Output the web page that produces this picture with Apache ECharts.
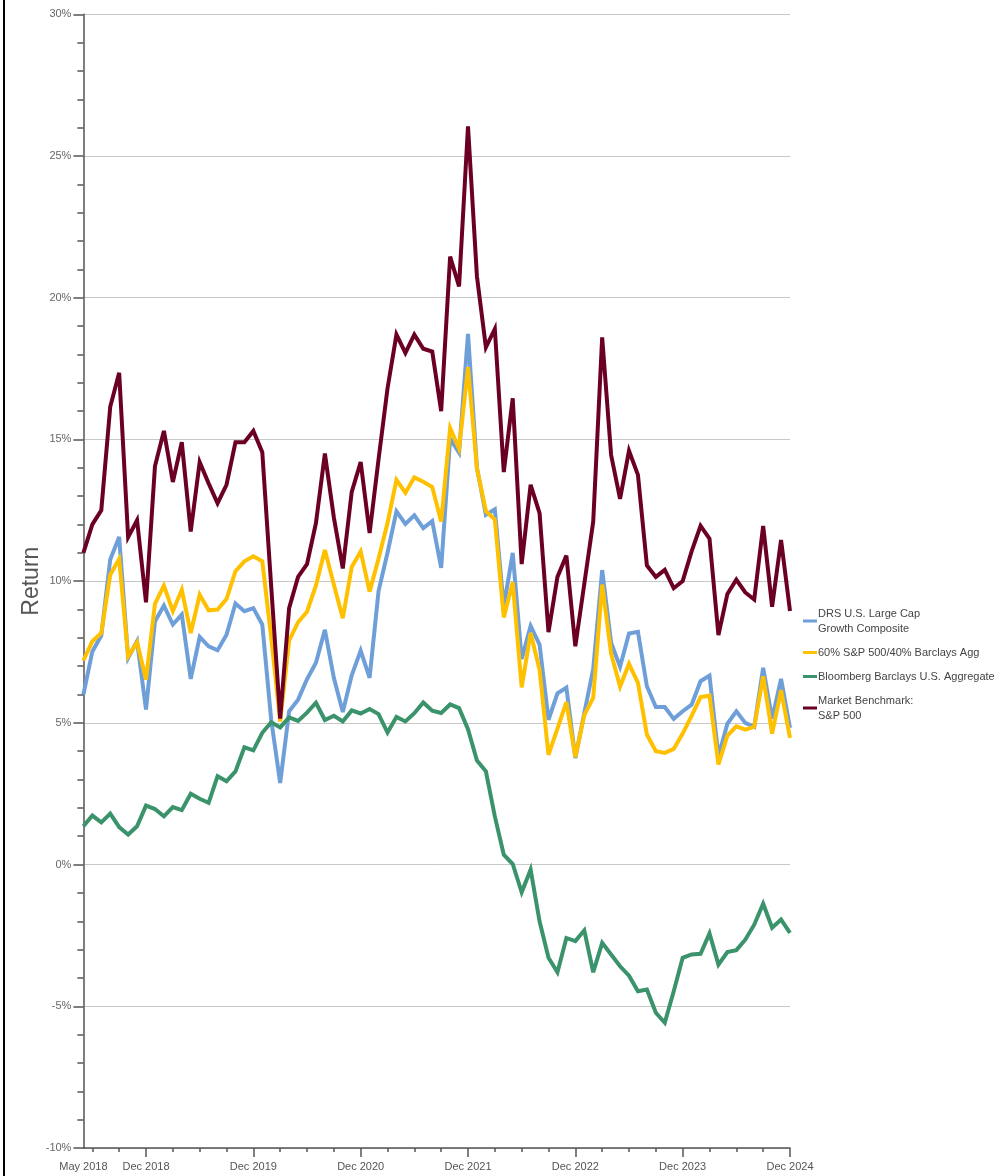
<!DOCTYPE html>
<html>
<head>
<meta charset="utf-8">
<title>Rolling Returns</title>
<script src="https://cdn.jsdelivr.net/npm/echarts@6/dist/echarts.min.js"></script>
<style>
  html, body { margin: 0; padding: 0; background: #fff; }
  #chart { width: 1003px; height: 1176px; }
</style>
</head>
<body>
<div id="chart"></div>
<script>
// Monthly periods, May 2018 through Dec 2024
const MONTH_NAMES = ['Jan','Feb','Mar','Apr','May','Jun','Jul','Aug','Sep','Oct','Nov','Dec'];
const months = [];
for (let y = 2018, m = 4; y < 2025; ) {
  months.push(MONTH_NAMES[m] + ' ' + y);
  m++;
  if (m === 12) { m = 0; y++; }
}

const seriesNames = [
  'DRS U.S. Large Cap\nGrowth Composite',
  '60% S&P 500/40% Barclays Agg',
  'Bloomberg Barclays U.S. Aggregate',
  'Market Benchmark:\nS&P 500'
];

// Returns in percent
const drsGrowth = [
  6.0, 7.52, 8.08, 10.76, 11.56, 7.29, 7.88, 5.47, 8.58, 9.14,
  8.47, 8.82, 6.55, 8.03, 7.7, 7.56, 8.11, 9.21, 8.94, 9.05,
  8.47, 5.1, 2.88, 5.41, 5.82, 6.54, 7.12, 8.28, 6.59, 5.38,
  6.68, 7.55, 6.59, 9.65, 11.0, 12.46, 12.02, 12.32, 11.87, 12.12,
  10.47, 15.02, 14.53, 18.72, 14.0, 12.34, 12.53, 9.1, 11.0, 7.25,
  8.42, 7.76, 5.11, 6.04, 6.24, 3.76, 5.34, 6.9, 10.39, 7.83,
  6.98, 8.15, 8.21, 6.29, 5.56, 5.56, 5.14, 5.41, 5.64, 6.47,
  6.67, 3.82, 4.97, 5.41, 5.0, 4.86, 6.94, 5.14, 6.55, 4.82
];
const balanced6040 = [
  7.2, 7.88, 8.17, 10.23, 10.78, 7.35, 7.84, 6.53, 9.2, 9.84,
  8.94, 9.7, 8.17, 9.52, 8.97, 9.0, 9.37, 10.35, 10.7, 10.88,
  10.7, 8.0, 5.05, 7.9, 8.55, 8.92, 9.85, 11.1, 9.88, 8.69,
  10.5, 11.05, 9.63, 10.8, 12.05, 13.57, 13.12, 13.66, 13.51, 13.32,
  12.1, 15.4, 14.68, 17.55, 13.98, 12.47, 12.17, 8.72, 9.96, 6.25,
  8.17, 6.87, 3.87, 4.8, 5.73, 3.79, 5.27, 5.89, 9.88, 7.44,
  6.28, 7.08, 6.41, 4.59, 4.0, 3.94, 4.08, 4.62, 5.25, 5.91,
  5.96, 3.53, 4.55, 4.88, 4.76, 4.86, 6.64, 4.62, 6.15, 4.47
];
const usAggregate = [
  1.35, 1.73, 1.49, 1.8, 1.32, 1.06, 1.35, 2.08, 1.96, 1.7,
  2.03, 1.92, 2.5, 2.32, 2.18, 3.12, 2.94, 3.29, 4.14, 4.03,
  4.65, 5.02, 4.84, 5.19, 5.07, 5.36, 5.71, 5.1, 5.25, 5.05,
  5.44, 5.33, 5.49, 5.31, 4.66, 5.21, 5.05, 5.34, 5.72, 5.43,
  5.35, 5.65, 5.52, 4.78, 3.67, 3.29, 1.7, 0.35, 0.02, -0.98,
  -0.18, -2.0, -3.29, -3.8, -2.59, -2.7, -2.32, -3.8, -2.76, -3.17,
  -3.59, -3.92, -4.47, -4.41, -5.23, -5.58, -4.47, -3.29, -3.17, -3.15,
  -2.43, -3.53, -3.09, -3.02, -2.65, -2.12, -1.38, -2.23, -1.94, -2.41
];
const sp500 = [
  11.0, 12.0, 12.5, 16.15, 17.35, 11.55, 12.15, 9.25, 14.05, 15.3,
  13.5, 14.9, 11.75, 14.2, 13.45, 12.75, 13.4, 14.9, 14.9, 15.3,
  14.55, 9.8, 5.15, 9.05, 10.15, 10.6, 12.05, 14.5, 12.25, 10.45,
  13.15, 14.2, 11.7, 14.3, 16.8, 18.7, 18.05, 18.7, 18.2, 18.1,
  16.0, 21.45, 20.4, 26.05, 20.75, 18.25, 18.9, 13.85, 16.45, 10.6,
  13.4, 12.4, 8.2, 10.15, 10.9, 7.7, 9.9, 12.1, 18.6, 14.45,
  12.9, 14.6, 13.75, 10.55, 10.15, 10.4, 9.75, 10.0, 11.05, 11.95,
  11.5, 8.1, 9.55, 10.05, 9.6, 9.35, 11.95, 9.1, 11.45, 8.95
];

const colors = ['#6f9fd8', '#ffc000', '#3a936b', '#6b0024'];
const seriesData = [drsGrowth, balanced6040, usAggregate, sp500];

const FONT = '"Liberation Sans", Arial, Helvetica, sans-serif';
const AXIS_GREY = '#555';

const isDecember = (i) => i % 12 === 7;

const chart = echarts.init(document.getElementById('chart'));
chart.setOption({
  animation: false,
  backgroundColor: '#fff',
  textStyle: { fontFamily: FONT },
  graphic: [{
    type: 'rect',
    left: 3, top: 0,
    shape: { width: 2, height: 1176 },
    style: { fill: '#000' }
  }],
  grid: { left: 83.4, right: 213, top: 14.3, bottom: 28 },
  legend: {
    orient: 'vertical',
    left: 803,
    top: 606,
    padding: 0,
    itemGap: 9,
    itemWidth: 14,
    itemHeight: 3,
    icon: 'rect',
    data: seriesNames,
    textStyle: {
      fontSize: 11, color: '#444', lineHeight: 15, fontFamily: FONT,
      padding: [0, 0, 0, -4]
    }
  },
  xAxis: [{
    // quarterly minor ticks and the axis line
    type: 'category',
    data: months,
    boundaryGap: false,
    axisLine: { onZero: false, lineStyle: { color: AXIS_GREY, width: 1.5 } },
    axisTick: {
      interval: (i) => i % 3 === 1 && !isDecember(i),
      length: 4,
      lineStyle: { color: AXIS_GREY, width: 1.5 }
    },
    axisLabel: { show: false },
    splitLine: { show: false }
  }, {
    // year-end ticks and labels
    type: 'category',
    data: months,
    boundaryGap: false,
    position: 'bottom',
    axisLine: { show: false, onZero: false },
    axisTick: {
      interval: (i) => isDecember(i),
      length: 9,
      lineStyle: { color: AXIS_GREY, width: 1.5 }
    },
    axisLabel: {
      interval: (i) => i === 0 || isDecember(i),
      margin: 13,
      fontSize: 11,
      color: '#555',
      fontFamily: FONT
    },
    splitLine: { show: false }
  }],
  yAxis: {
    type: 'value',
    min: -10,
    max: 30,
    interval: 5,
    name: 'Return',
    nameLocation: 'middle',
    nameGap: 40,
    nameMoveOverlap: false,
    nameTextStyle: { fontSize: 23, color: '#555', fontFamily: FONT },
    axisLine: { show: true, lineStyle: { color: AXIS_GREY, width: 1.5 } },
    axisTick: { show: true, length: 10, lineStyle: { color: AXIS_GREY, width: 1.5 } },
    minorTick: { show: true, splitNumber: 5, length: 6, lineStyle: { color: AXIS_GREY, width: 1.5 } },
    axisLabel: {
      formatter: '{value}%',
      margin: 12,
      fontSize: 11,
      color: '#666',
      fontFamily: FONT
    },
    splitLine: { lineStyle: { color: '#c8c8c8', width: 1 } }
  },
  series: seriesNames.map((name, k) => ({
    name,
    type: 'line',
    data: seriesData[k],
    showSymbol: false,
    symbol: 'none',
    color: colors[k],
    lineStyle: { width: 4, color: colors[k], join: 'miter', miterLimit: 4 },
    emphasis: { disabled: true }
  }))
});
</script>
</body>
</html>
